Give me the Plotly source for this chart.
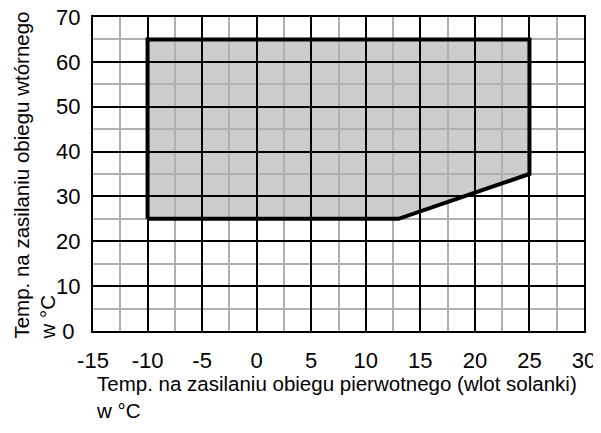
import plotly.graph_objects as go

# Operating envelope polygon (x: primary supply temp, y: secondary supply temp)
env_x = [-10, -10, 25, 25, 13, -10]
env_y = [25, 65, 65, 35, 25, 25]

x_ticks = [-15, -10, -5, 0, 5, 10, 15, 20, 25, 30]
y_ticks = [0, 10, 20, 30, 40, 50, 60, 70]

x_title = "Temp. na zasilaniu obiegu pierwotnego (wlot solanki)<br>w °C"
y_title = "Temp. na zasilaniu obiegu wtórnego<br>w °C"

FONT = "Arial, Liberation Sans, sans-serif"
TICK_SIZE = 22
TITLE_SIZE = 20.5

fig = go.Figure()

# fill drawn below gridlines
path = "M " + " L ".join(f"{x},{y}" for x, y in zip(env_x, env_y)) + " Z"
fig.add_shape(type="path", path=path, xref="x", yref="y",
              fillcolor="#cccccc", line=dict(width=0), layer="below")

fig.add_trace(go.Scatter(x=env_x, y=env_y, mode="lines",
                         line=dict(color="black", width=4),
                         hoverinfo="skip", showlegend=False))

# y labels appear centred: pad single-digit label with a half-digit nbsp
y_text = [str(v) if v >= 10 else str(v) + "\u00a0" for v in y_ticks]

fig.update_xaxes(range=[-15, 30], tickvals=x_ticks, ticktext=[str(v) for v in x_ticks],
                 showgrid=True, gridcolor="black", gridwidth=1.5,
                 minor=dict(dtick=2.5, tick0=0, showgrid=True, gridcolor="#b0b0b0", gridwidth=1.5),
                 showline=True, linecolor="black", linewidth=2, mirror=True,
                 zeroline=False, ticks="", automargin=False, ticklabelstandoff=9,
                 ticklabeloverflow="allow",
                 tickfont=dict(family=FONT, size=TICK_SIZE, color="black"))
fig.update_yaxes(range=[0, 70], tickvals=y_ticks, ticktext=y_text,
                 showgrid=True, gridcolor="black", gridwidth=1.5,
                 minor=dict(dtick=5, tick0=0, showgrid=True, gridcolor="#b0b0b0", gridwidth=1.5),
                 showline=True, linecolor="black", linewidth=2, mirror=True,
                 zeroline=False, ticks="", automargin=False, ticklabelstandoff=6,
                 ticklabeloverflow="allow",
                 tickfont=dict(family=FONT, size=TICK_SIZE, color="black"))

fig.add_annotation(text=x_title, xref="paper", yref="paper", x=0.002, y=-0.21,
                   xanchor="left", yanchor="middle", align="left", showarrow=False,
                   font=dict(family=FONT, size=TITLE_SIZE, color="black"))
fig.add_annotation(text=y_title, xref="paper", yref="paper", x=-0.119, y=-0.035,
                   xanchor="center", yanchor="bottom", align="left", showarrow=False,
                   textangle=-90, font=dict(family=FONT, size=TITLE_SIZE, color="black"))

# page body has an 8px default margin: size the figure to fill the rest of the window
fig.update_layout(width=593, height=425,
                  margin=dict(l=85, r=17, t=9, b=102),
                  plot_bgcolor="white", paper_bgcolor="white",
                  font=dict(family=FONT, color="black"))

fig.write_html("out.html")
